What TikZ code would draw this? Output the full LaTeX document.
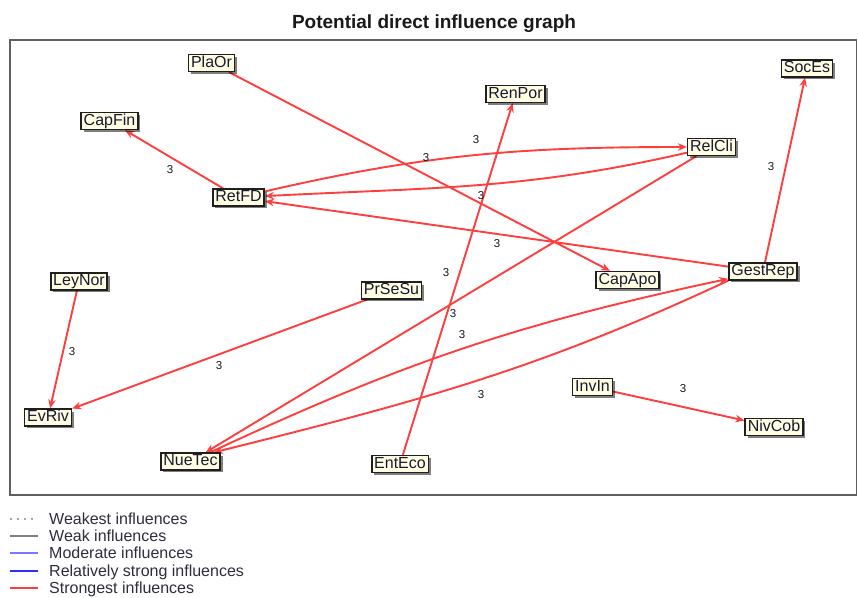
\documentclass[tikz,border=0pt]{standalone}
\usepackage{fontspec}
\setmainfont{Liberation Sans}
\usetikzlibrary{arrows.meta,shadows}
\pgfdeclarelayer{edges}
\pgfsetlayers{edges,main}

\definecolor{strongred}{RGB}{255,62,62}
\definecolor{nodecream}{RGB}{255,254,226}
\definecolor{nodeink}{RGB}{24,24,50}
\definecolor{legendink}{RGB}{45,45,60}
\definecolor{framegray}{RGB}{95,95,95}
\definecolor{moderateblue}{RGB}{120,120,255}
\definecolor{strongblue}{RGB}{45,45,255}

\tikzset{
  var/.style={draw=black!88, line width=1.6pt, fill=nodecream,
    font=\fontsize{16}{16}\selectfont, text=nodeink,
    inner xsep=2.5pt, inner ysep=1pt, text height=11.5pt, text depth=3.2pt,
    drop shadow={shadow xshift=2.5pt, shadow yshift=-2.5pt, fill=black, opacity=0.5}},
  infl/.style={draw=strongred, line width=1.9pt, -{Stealth[length=9pt,width=7.5pt]}},
  wt/.style={font=\fontsize{11.5}{11.5}\selectfont, text=black!90, inner sep=0pt},
  leg/.style={font=\fontsize{16}{16}\selectfont, text=legendink, anchor=base west, inner sep=0pt},
}

\begin{document}
\begin{tikzpicture}[x=1pt,y=1pt]
\useasboundingbox (0,0) rectangle (858,-597);

% title and frame
\node[font=\bfseries\fontsize{19}{19}\selectfont, text=black!90, anchor=base, inner sep=0pt]
  (title) at (434,-28.5) {Potential direct influence graph};
\draw[framegray, line width=1.5pt] (10,-40) rectangle (856.5,-495);

% variables
\node[var] (PlaOr)   at (211.5,-63)   {PlaOr};
\node[var] (RenPor)  at (515.5,-94)   {RenPor};
\node[var] (SocEs)   at (807,-68.5)   {SocEs};
\node[var] (CapFin)  at (109.5,-121)  {CapFin};
\node[var] (RelCli)  at (711.5,-147)  {RelCli};
\node[var] (RetFD)   at (238.5,-197.5){RetFD};
\node[var] (CapApo)  at (627.5,-280)  {CapApo};
\node[var] (GestRep) at (763,-271.5)  {GestRep};
\node[var] (LeyNor)  at (79,-281.5)   {LeyNor};
\node[var] (PrSeSu)  at (391.5,-290.5){PrSeSu};
\node[var] (EvRiv)   at (48,-417.5)   {EvRiv};
\node[var] (InvIn)   at (592.5,-387)  {InvIn};
\node[var] (NivCob)  at (774,-427)    {NivCob};
\node[var] (NueTec)  at (190.5,-461.5){NueTec};
\node[var] (EntEco)  at (400,-464)    {EntEco};

% influences
\begin{pgfonlayer}{edges}
\draw[infl] (RetFD) -- (CapFin);
\draw[infl] (PlaOr) -- (CapApo);
\draw[infl] (EntEco) -- (RenPor);
\draw[infl] (RetFD) to[out=13,in=180] (RelCli);
\draw[infl] (RelCli) to[out=193,in=3] (RetFD);
\draw[infl] (GestRep) -- (RetFD);
\draw[infl] (GestRep) -- (SocEs);
\draw[infl] (LeyNor) -- (EvRiv);
\draw[infl] (PrSeSu) -- (EvRiv);
\draw[infl] (RelCli) -- (NueTec);
\draw[infl] (NueTec) to[bend left=6.5] (GestRep);
\draw[infl] (GestRep.south west) to[out=205,in=14] ([xshift=-7pt]NueTec.north east);
\draw[infl] (InvIn) -- (NivCob);
\end{pgfonlayer}

% weights
\node[wt] (w1)  at (170,-170) {3};
\node[wt] (w2)  at (426,-158) {3};
\node[wt] (w3)  at (476,-140) {3};
\node[wt] (w4)  at (481,-196) {3};
\node[wt] (w5)  at (497,-244) {3};
\node[wt] (w6)  at (446,-273) {3};
\node[wt] (w7)  at (453,-314) {3};
\node[wt] (w8)  at (462,-335) {3};
\node[wt] (w9)  at (481,-395) {3};
\node[wt] (w10) at (219,-366) {3};
\node[wt] (w11) at (72,-352)  {3};
\node[wt] (w12) at (771,-167) {3};
\node[wt] (w13) at (683,-389) {3};

% legend
\draw[gray!70, line width=1.2pt, dash pattern=on 1.5pt off 5.5pt] (10,-519) -- (38,-519);
\draw[gray, line width=1.2pt] (10,-536) -- (38,-536);
\draw[moderateblue, line width=1.3pt] (10,-553) -- (38,-553);
\draw[strongblue, line width=2pt] (10,-571) -- (38,-571);
\draw[strongred, line width=2.6pt] (10,-588) -- (38,-588);
\node[leg] (l1) at (49,-524.5) {Weakest influences};
\node[leg] (l2) at (49,-541.5) {Weak influences};
\node[leg] (l3) at (49,-558.5) {Moderate influences};
\node[leg] (l4) at (49,-576.5) {Relatively strong influences};
\node[leg] (l5) at (49,-593.5) {Strongest influences};
\end{tikzpicture}
\end{document}
